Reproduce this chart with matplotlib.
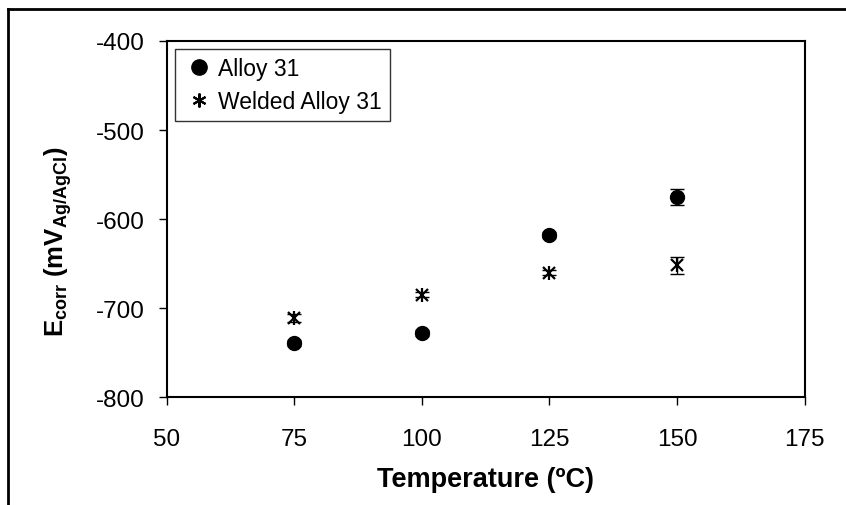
import matplotlib
matplotlib.use("Agg")
import matplotlib.pyplot as plt
from matplotlib.lines import Line2D

plt.rcParams['font.family'] = ['Liberation Sans', 'DejaVu Sans']
plt.rcParams['axes.unicode_minus'] = False
plt.rcParams['mathtext.fontset'] = 'custom'
plt.rcParams['mathtext.rm'] = 'Liberation Sans'
plt.rcParams['mathtext.bf'] = 'Liberation Sans:bold'
plt.rcParams['mathtext.it'] = 'Liberation Sans:italic'

temps = [75, 100, 125, 150]
alloy = [-739, -728, -618, -575]
alloy_err = [3, 3, 3, 9]
welded = [-711, -685, -660, -652]
welded_err = [5, 3, 3, 10]

fig = plt.figure(figsize=(8.46, 5.06), dpi=100)
ax = fig.add_axes([0.197, 0.213, 0.754, 0.704])

ax.errorbar(temps, alloy, yerr=alloy_err, fmt='o', color='black', ms=10,
            capsize=5, elinewidth=1, capthick=1)
ax.errorbar(temps, welded, yerr=welded_err, fmt='none', ecolor='black',
            capsize=5, elinewidth=1, capthick=1)
ax.plot(temps, welded, ls='none', marker='x', color='black', ms=9, mew=1.6)
ax.plot(temps, welded, ls='none', marker='|', color='black', ms=10, mew=1.6)

ax.set_xlim(50, 175)
ax.set_ylim(-800, -400)
ax.set_xticks([50, 75, 100, 125, 150, 175])
ax.set_yticks([-800, -700, -600, -500, -400])
ax.tick_params(direction='out', length=6, width=1, labelsize=17.5)
ax.tick_params(axis='x', pad=16)
ax.tick_params(axis='y', pad=10)
for s in ax.spines.values():
    s.set_linewidth(1.5)

ax.set_xlabel('Temperature (ºC)', fontsize=19.5, fontweight='bold', labelpad=12)
ax.set_ylabel(r'$\mathbf{E_{corr}\ (mV_{Ag/AgCl})}$', fontsize=18.5)
ax.yaxis.set_label_coords(-0.145, 0.44)

handles = [
    Line2D([], [], ls='none', marker='o', color='black', ms=11),
    Line2D([], [], ls='none', marker=(6, 2, 0), color='black', ms=10, mew=1.5),
]
leg = ax.legend(handles, ['Alloy 31', 'Welded Alloy 31'], loc='upper left',
                fontsize=16.5, frameon=True, fancybox=False, handlelength=1.4,
                handletextpad=0.15, borderpad=0.35, labelspacing=0.45,
                bbox_to_anchor=(0.0125, 0.9775), borderaxespad=0)
leg.get_frame().set_edgecolor('black')
leg.get_frame().set_linewidth(1)

# outer chart border (left and top)
fig.add_artist(Line2D([0.01, 0.01], [0, 0.98], color='black', lw=2,
                      transform=fig.transFigure))
fig.add_artist(Line2D([0.01, 1.0], [0.98, 0.98], color='black', lw=2,
                      transform=fig.transFigure))

fig.savefig('out.png', dpi=100)
